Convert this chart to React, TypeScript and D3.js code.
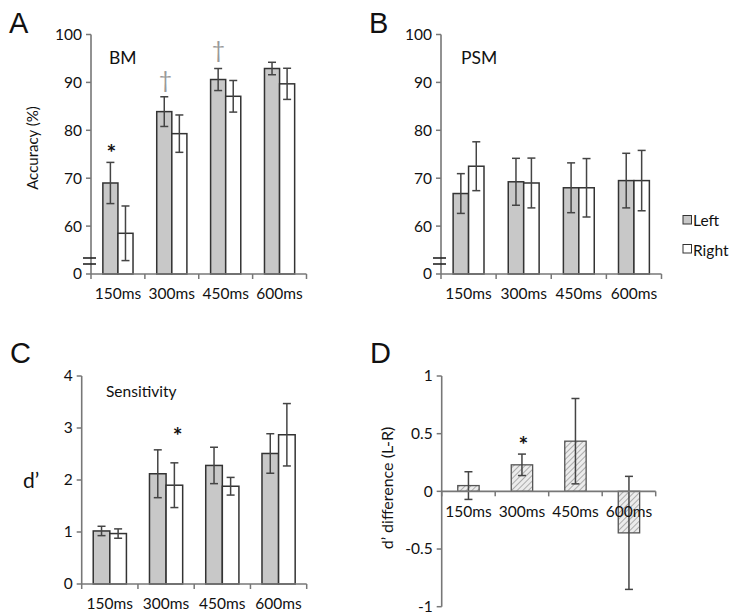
import React from "react";
import * as d3 from "d3";

const categories = ["150ms", "300ms", "450ms", "600ms"];

// Panel A (BM) accuracy
const bmLeft = [69.0, 83.9, 90.6, 92.9];
const bmLeftErr = [4.3, 3.1, 2.3, 1.3];
const bmRight = [58.5, 79.3, 87.1, 89.7];
const bmRightErr = [5.7, 3.9, 3.3, 3.25];

// Panel B (PSM) accuracy
const psmLeft = [66.8, 69.25, 68.0, 69.5];
const psmLeftErr = [4.15, 4.9, 5.2, 5.7];
const psmRight = [72.5, 69.0, 68.0, 69.5];
const psmRightErr = [5.1, 5.2, 6.1, 6.3];

// Panel C sensitivity d'
const dLeft = [1.02, 2.12, 2.28, 2.51];
const dLeftErr = [0.09, 0.46, 0.35, 0.38];
const dRight = [0.97, 1.9, 1.88, 2.87];
const dRightErr = [0.09, 0.43, 0.17, 0.6];

// Panel D d' difference (L-R)
const dDiff = [0.05, 0.23, 0.435, -0.36];
const dDiffErr = [0.12, 0.093, 0.37, 0.49];

// Tick values / labels
const accTickValues = [50, 60, 70, 80, 90, 100];
const accTickLabels = ["0", "60", "70", "80", "90", "100"];
const dTickValues = [0, 1, 2, 3, 4];
const diffTickValues = [-1, -0.5, 0, 0.5, 1];

const FONT = "Lato, 'Open Sans', sans-serif";
const AXIS = "#777";
const BAR_STROKE = "#333";
const ERR = "#444";
const LEFT_FILL = "#c8c8c8";
const TICK_FS = 15.5;

type GroupedProps = {
  x0: number;
  x1: number;
  yDomain: [number, number];
  yRange: [number, number];
  tickValues: number[];
  tickLabels: string[];
  left: number[];
  leftErr: number[];
  right: number[];
  rightErr: number[];
  barFrac: number;
  breakMark?: boolean;
};

function GroupedPanel(p: GroupedProps) {
  const x = d3.scaleBand<string>().domain(categories).range([p.x0, p.x1]);
  const y = d3.scaleLinear().domain(p.yDomain).range(p.yRange);
  const bw = x.bandwidth();
  const w = bw * p.barFrac;
  const base = y(p.yDomain[0]);
  const boundaries = [p.x0, ...categories.map((c) => (x(c) as number) + bw)];
  const cap = 4;
  const errBar = (cx: number, v: number, e: number, key: string) => (
    <g key={key} stroke={ERR} strokeWidth={1.5}>
      <line x1={cx} x2={cx} y1={y(v + e)} y2={y(v - e)} />
      <line x1={cx - cap} x2={cx + cap} y1={y(v + e)} y2={y(v + e)} />
      <line x1={cx - cap} x2={cx + cap} y1={y(v - e)} y2={y(v - e)} />
    </g>
  );
  return (
    <g>
      {categories.map((c, i) => {
        const cx = (x(c) as number) + bw / 2;
        return (
          <g key={c}>
            <rect x={cx - w} y={y(p.left[i])} width={w} height={base - y(p.left[i])} fill={LEFT_FILL} stroke={BAR_STROKE} strokeWidth={1.5} />
            <rect x={cx} y={y(p.right[i])} width={w} height={base - y(p.right[i])} fill="#fff" stroke={BAR_STROKE} strokeWidth={1.5} />
            {errBar(cx - w / 2, p.left[i], p.leftErr[i], "l")}
            {errBar(cx + w / 2, p.right[i], p.rightErr[i], "r")}
          </g>
        );
      })}
      <line x1={p.x0} x2={p.x0} y1={y(p.yDomain[1])} y2={base} stroke={AXIS} strokeWidth={1.6} />
      {p.tickValues.map((t, i) => (
        <g key={t}>
          <line x1={p.x0 - 5} x2={p.x0} y1={y(t)} y2={y(t)} stroke={AXIS} strokeWidth={1.5} />
          <text x={p.x0 - 9} y={y(t)} dy="0.35em" textAnchor="end" fontSize={TICK_FS} fontFamily={FONT} fill="#111">
            {p.tickLabels[i]}
          </text>
        </g>
      ))}
      <line x1={p.x0} x2={p.x1} y1={base} y2={base} stroke={AXIS} strokeWidth={1.6} />
      {boundaries.map((b, i) => (
        <line key={i} x1={b} x2={b} y1={base} y2={base + 5} stroke={AXIS} strokeWidth={1.5} />
      ))}
      {categories.map((c) => (
        <text key={c} x={(x(c) as number) + bw / 2} y={base + 25} textAnchor="middle" fontSize={TICK_FS} fontFamily={FONT} fill="#111">
          {c}
        </text>
      ))}
      {p.breakMark && (
        <g stroke="#222" strokeWidth={1.6}>
          <line x1={p.x0 - 8} x2={p.x0 + 5} y1={base - 16} y2={base - 16} />
          <line x1={p.x0 - 8} x2={p.x0 + 5} y1={base - 10} y2={base - 10} />
        </g>
      )}
    </g>
  );
}

function DiffPanel() {
  const x0 = 441.7;
  const x1 = 655.7;
  const x = d3.scaleBand<string>().domain(categories).range([x0, x1]);
  const y = d3.scaleLinear().domain([-1, 1]).range([606.7, 376]);
  const bw = x.bandwidth();
  const w = bw * 0.4;
  const zero = y(0);
  const cap = 4;
  const boundaries = [x0, ...categories.map((c) => (x(c) as number) + bw)];
  return (
    <g>
      <defs>
        <pattern id="hatch" patternUnits="userSpaceOnUse" width={4} height={4} patternTransform="rotate(45)">
          <rect width={4} height={4} fill="#ececec" />
          <line x1={0} y1={0} x2={0} y2={4} stroke="#8a8a8a" strokeWidth={1.3} />
        </pattern>
      </defs>
      {categories.map((c, i) => {
        const cx = (x(c) as number) + bw / 2;
        const v = dDiff[i];
        const e = dDiffErr[i];
        return (
          <g key={c}>
            <rect x={cx - w / 2} y={Math.min(y(v), zero)} width={w} height={Math.abs(y(v) - zero)} fill="url(#hatch)" stroke="#555" strokeWidth={1.3} />
            <g stroke={ERR} strokeWidth={1.5}>
              <line x1={cx} x2={cx} y1={y(v + e)} y2={y(v - e)} />
              <line x1={cx - cap} x2={cx + cap} y1={y(v + e)} y2={y(v + e)} />
              <line x1={cx - cap} x2={cx + cap} y1={y(v - e)} y2={y(v - e)} />
            </g>
          </g>
        );
      })}
      <line x1={x0} x2={x0} y1={y(1)} y2={y(-1)} stroke={AXIS} strokeWidth={1.6} />
      {diffTickValues.map((t) => (
        <g key={t}>
          <line x1={x0 - 5} x2={x0} y1={y(t)} y2={y(t)} stroke={AXIS} strokeWidth={1.5} />
          <text x={x0 - 9} y={y(t)} dy="0.35em" textAnchor="end" fontSize={TICK_FS} fontFamily={FONT} fill="#111">
            {String(t)}
          </text>
        </g>
      ))}
      <line x1={x0} x2={x1} y1={zero} y2={zero} stroke={AXIS} strokeWidth={1.6} />
      {boundaries.map((b, i) => (
        <line key={i} x1={b} x2={b} y1={zero} y2={zero + 5} stroke={AXIS} strokeWidth={1.5} />
      ))}
      {categories.map((c) => (
        <text key={c} x={(x(c) as number) + bw / 2} y={zero + 26} textAnchor="middle" fontSize={TICK_FS} fontFamily={FONT} fill="#111">
          {c}
        </text>
      ))}
      <text x={523.3} y={y(0.45)} dy="0.6em" textAnchor="middle" fontSize={23} fontWeight="bold" fontFamily={FONT} fill="#111">*</text>
      <text transform={`translate(387,488) rotate(-90)`} textAnchor="middle" dy="0.35em" fontSize={16} fontFamily={FONT} fill="#111">
        d’ difference (L-R)
      </text>
    </g>
  );
}

export default function App() {
  const accDomain: [number, number] = [50, 100];
  const accRange: [number, number] = [274, 34.5];
  const yA = d3.scaleLinear().domain(accDomain).range(accRange);
  const yC = d3.scaleLinear().domain([0, 4]).range([584, 376]);
  const LETTER = "'Liberation Sans', Arial, sans-serif";
  return (
    <svg width={735} height={616} style={{ position: "absolute", left: 0, top: 0, background: "#fff" }}>
      <rect width={735} height={616} fill="#fff" />
      <text x={9} y={33} fontSize={29} fontFamily={LETTER} fill="#111">A</text>
      <text x={369} y={33} fontSize={29} fontFamily={LETTER} fill="#111">B</text>
      <text x={10} y={363} fontSize={29} fontFamily={LETTER} fill="#111">C</text>
      <text x={370} y={363} fontSize={29} fontFamily={LETTER} fill="#111">D</text>

      {/* Panel A */}
      <GroupedPanel x0={91} x1={306.5} yDomain={accDomain} yRange={accRange} tickValues={accTickValues} tickLabels={accTickLabels}
        left={bmLeft} leftErr={bmLeftErr} right={bmRight} rightErr={bmRightErr} barFrac={0.28} breakMark />
      <text x={109} y={63.5} fontSize={17.5} fontFamily={FONT} fill="#111">BM</text>
      <text transform="translate(33,148) rotate(-90)" textAnchor="middle" dy="0.35em" fontSize={15} fontFamily={FONT} fill="#111">Accuracy (%)</text>
      <text x={111.5} y={yA(76.5)} dy="0.6em" textAnchor="middle" fontSize={23} fontWeight="bold" fontFamily={FONT} fill="#111">*</text>
      <text x={165.5} y={yA(90.5)} dy="0.35em" textAnchor="middle" fontSize={23} fontFamily={FONT} fill="#999">†</text>
      <text x={218.5} y={yA(96.8)} dy="0.35em" textAnchor="middle" fontSize={23} fontFamily={FONT} fill="#999">†</text>

      {/* Panel B */}
      <GroupedPanel x0={441} x1={661.5} yDomain={accDomain} yRange={accRange} tickValues={accTickValues} tickLabels={accTickLabels}
        left={psmLeft} leftErr={psmLeftErr} right={psmRight} rightErr={psmRightErr} barFrac={0.28} breakMark />
      <text x={461} y={63.5} fontSize={17.5} fontFamily={FONT} fill="#111">PSM</text>

      {/* Legend */}
      <rect x={683} y={215.5} width={8.5} height={8.5} fill={LEFT_FILL} stroke={BAR_STROKE} strokeWidth={1} />
      <text x={693} y={226} fontSize={15.5} fontFamily={FONT} fill="#111">Left</text>
      <rect x={683} y={244.5} width={8.5} height={8.5} fill="#fff" stroke={BAR_STROKE} strokeWidth={1} />
      <text x={693} y={255.5} fontSize={15.5} fontFamily={FONT} fill="#111">Right</text>

      {/* Panel C */}
      <GroupedPanel x0={81.7} x1={306.7} yDomain={[0, 4]} yRange={[584, 376]} tickValues={dTickValues} tickLabels={dTickValues.map(String)}
        left={dLeft} leftErr={dLeftErr} right={dRight} rightErr={dRightErr} barFrac={0.295} />
      <text x={106} y={397} fontSize={15.5} fontFamily={FONT} fill="#111">Sensitivity</text>
      <text x={23} y={488} fontSize={21} fontFamily={FONT} fill="#111">d’</text>
      <text x={177.7} y={yC(2.96)} dy="0.6em" textAnchor="middle" fontSize={23} fontWeight="bold" fontFamily={FONT} fill="#111">*</text>

      <DiffPanel />
    </svg>
  );
}
